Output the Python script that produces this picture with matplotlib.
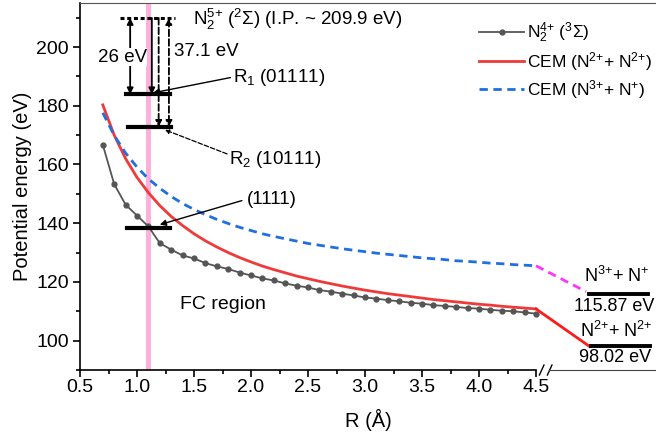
import matplotlib
matplotlib.use('Agg')
import matplotlib.pyplot as plt
from matplotlib.ticker import FixedLocator, MultipleLocator

plt.rcParams['font.family'] = ['Liberation Sans', 'DejaVu Sans']
plt.rcParams['mathtext.default'] = 'regular'
plt.rcParams['font.size'] = 14

# internuclear distance grid (Angstrom)
R = [0.7, 0.8, 0.9, 1.0, 1.1, 1.2, 1.3, 1.4, 1.5, 1.6, 1.7, 1.8, 1.9, 2.0,
     2.1, 2.2, 2.3, 2.4, 2.5, 2.6, 2.7, 2.8, 2.9, 3.0, 3.1, 3.2, 3.3, 3.4,
     3.5, 3.6, 3.7, 3.8, 3.9, 4.0, 4.1, 4.2, 4.3, 4.4, 4.5]

# N2^4+ (3Sigma) potential curve
E_n2_4p = [166.7, 153.3, 146.3, 142.6, 138.9, 133.2, 131.0, 129.0, 128.0, 126.4,
           125.3, 124.4, 123.2, 122.2, 121.2, 120.5, 119.5, 118.7, 118.1, 117.2,
           116.7, 116.0, 115.4, 114.7, 114.3, 113.8, 113.4, 112.9, 112.6, 112.1,
           111.8, 111.5, 111.1, 110.9, 110.5, 110.2, 110.0, 109.6, 109.2]

# Coulomb explosion model curves
E_cem_22 = [180.3, 170.0, 162.0, 155.6, 150.4, 146.0, 142.3, 139.2, 136.4, 134.0,
            131.9, 130.0, 128.3, 126.8, 125.4, 124.2, 123.1, 122.0, 121.1, 120.2,
            119.4, 118.6, 117.9, 117.2, 116.6, 116.0, 115.5, 115.0, 114.5, 114.0,
            113.6, 113.2, 112.8, 112.4, 112.1, 111.7, 111.4, 111.1, 110.8]
E_cem_31 = [177.6, 169.9, 163.9, 159.1, 155.1, 151.9, 149.1, 146.7, 144.7, 142.9,
            141.3, 139.9, 138.6, 137.5, 136.4, 135.5, 134.7, 133.9, 133.1, 132.5,
            131.9, 131.3, 130.8, 130.3, 129.8, 129.4, 129.0, 128.6, 128.2, 127.9,
            127.6, 127.2, 127.0, 126.7, 126.4, 126.2, 125.9, 125.7, 125.5]

# asymptotic limits (eV)
lim_22 = 98.02
lim_31 = 115.87

# ionization potential and state levels (eV)
IP = 209.9
E_R1 = IP - 26.0
E_R2 = IP - 37.1
E_1111 = 138.5
R_fc = 1.1

fs = 13.5

fig = plt.figure(figsize=(6.56, 4.4), dpi=100)
ax = fig.add_axes([80/656, 1-370/440, 576/656, 367/440])

ax.axvline(R_fc, color='#ffb0dc', lw=3.6, zorder=0)

ax.plot(R, E_n2_4p, '-o', color='#555555', lw=1.3, ms=3.5, label=r'N$_2^{4{+}}$ ($^3$Σ)')
ax.plot(R, E_cem_22, '-', color='#f03a3a', lw=2, label=r'CEM (N$^{2{+}}$+ N$^{2{+}}$)')
ax.plot(R, E_cem_31, '--', color='#1f6fe0', lw=2, dashes=(3, 2), label=r'CEM (N$^{3{+}}$+ N$^{{+}}$)')

# connections to the dissociation limits
ax.plot([4.5, 4.97], [E_cem_22[-1], lim_22], '-', color='#ff1a1a', lw=2, clip_on=False)
ax.plot([4.5, 4.94], [E_cem_31[-1], lim_31 + 0.8], '--', color='#ff33ff', lw=2, dashes=(3, 2), clip_on=False)
ax.plot([4.98, 5.5], [lim_22, lim_22], 'k-', lw=2.8, clip_on=False)
ax.plot([4.965, 5.48], [lim_31, lim_31], 'k-', lw=2.8, clip_on=False)
ax.text(5.21, 121.9, r'N$^{3{+}}$+ N$^{{+}}$', ha='center', va='center', fontsize=13)
ax.text(5.19, 111.6, '115.87 eV', ha='center', va='center', fontsize=13)
ax.text(5.20, 103.2, r'N$^{2{+}}$+ N$^{2{+}}$', ha='center', va='center', fontsize=13)
ax.text(5.19, 94.3, '98.02 eV', ha='center', va='center', fontsize=13)

# energy levels in the FC region
ax.plot([0.85, 1.33], [IP, IP], color='k', lw=2.2, ls=(0, (1.3, 0.9)))
ax.plot([0.9, 1.29], [E_R1, E_R1], 'k-', lw=3)
ax.plot([0.92, 1.30], [E_R2, E_R2], 'k-', lw=3)
ax.plot([0.91, 1.29], [E_1111, E_1111], 'k-', lw=3)

ax.annotate('', xy=(0.94, E_R1), xytext=(0.94, IP),
            arrowprops=dict(arrowstyle='<|-|>', color='k', lw=1.3, mutation_scale=9, shrinkA=0, shrinkB=0))
ax.text(0.87, 196.6, '26 eV', ha='center', va='center', fontsize=fs,
        bbox=dict(fc='white', ec='none', pad=0.3))
ax.annotate('', xy=(1.13, E_R1), xytext=(1.13, IP),
            arrowprops=dict(arrowstyle='-|>', color='k', lw=1.3, mutation_scale=9, shrinkA=0, shrinkB=0))
ax.annotate('', xy=(1.19, E_R2), xytext=(1.19, IP),
            arrowprops=dict(arrowstyle='-|>', color='k', lw=1.3, ls='--', mutation_scale=9, shrinkA=0, shrinkB=0))
ax.annotate('', xy=(1.28, E_R2), xytext=(1.28, IP),
            arrowprops=dict(arrowstyle='<|-|>', color='k', lw=1.3, ls='--', mutation_scale=9, shrinkA=0, shrinkB=0))
ax.text(1.61, 198.4, '37.1 eV', ha='center', va='center', fontsize=fs)
ax.text(1.49, 209.3, r'N$_2^{5{+}}$ ($^2$Σ) (I.P. ~ 209.9 eV)', ha='left', va='center', fontsize=fs)

ax.annotate('', xy=(1.14, 184.4), xytext=(1.82, 189.6),
            arrowprops=dict(arrowstyle='-|>', color='k', lw=1, mutation_scale=9, shrinkA=0, shrinkB=0))
ax.text(1.84, 189.5, r'R$_1$ (01111)', ha='left', va='center', fontsize=fs)
ax.annotate('', xy=(1.245, 171.8), xytext=(1.79, 163.6),
            arrowprops=dict(arrowstyle='-|>', color='k', lw=0.9, ls='--', mutation_scale=6, shrinkA=0, shrinkB=0))
ax.text(1.81, 161.6, r'R$_2$ (10111)', ha='left', va='center', fontsize=fs)
ax.annotate('', xy=(1.20, 139.5), xytext=(1.92, 147.7),
            arrowprops=dict(arrowstyle='-|>', color='k', lw=1, mutation_scale=9, shrinkA=0, shrinkB=0))
ax.text(1.96, 148.0, '(1111)', ha='left', va='center', fontsize=fs)
ax.text(1.75, 112.2, 'FC region', ha='center', va='center', fontsize=14)

##axes setting
ax.set_xlim(0.5, 0.5 + 576/114)
ax.set_ylim(90, 215)
ax.set_xticks([0.5, 1.0, 1.5, 2.0, 2.5, 3.0, 3.5, 4.0, 4.5])
ax.xaxis.set_minor_locator(FixedLocator([0.75, 1.25, 1.75, 2.25, 2.75, 3.25, 3.75, 4.25]))
ax.set_yticks([100, 120, 140, 160, 180, 200])
ax.yaxis.set_minor_locator(MultipleLocator(10))
ax.tick_params(which='both', direction='out', width=1.2, labelsize=14)
ax.tick_params(which='major', length=5, pad=3)
ax.tick_params(axis='x', which='major', pad=1.5)
ax.tick_params(which='minor', length=3)
ax.spines['right'].set_visible(False)
ax.spines['bottom'].set_bounds(0.5, 4.5)
for s in ['left', 'bottom']:
    ax.spines[s].set_linewidth(1.2)
ax.spines['top'].set_color('#555555')

# axis break on the bottom
ax.plot([4.53, 4.57], [88.3, 91.7], 'k-', lw=1, clip_on=False)
ax.plot([4.60, 4.64], [88.3, 91.7], 'k-', lw=1, clip_on=False)
ax.plot([4.61, 5.6], [90, 90], '-', color='#444444', lw=0.8, clip_on=False)

ax.set_xlabel('R (Å)', fontsize=14.5, labelpad=9)
ax.set_ylabel('Potential energy (eV)', fontsize=14.5, labelpad=3)

ax.legend(loc='upper right', bbox_to_anchor=(1.02, 0.995), frameon=False, fontsize=12.5,
          handlelength=2.6, handletextpad=0.15, labelspacing=0.3)

fig.savefig('out.png', dpi=100)
